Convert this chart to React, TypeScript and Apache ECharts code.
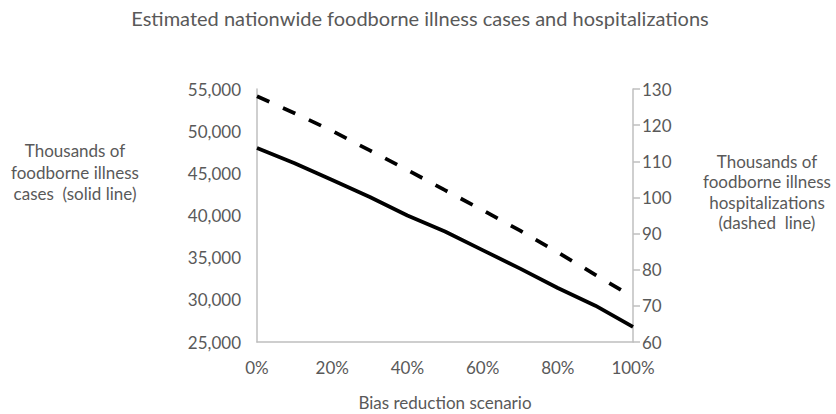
import React, { useEffect, useRef } from "react";
import * as echarts from "echarts";

const categories = ["0%", "10%", "20%", "30%", "40%", "50%", "60%", "70%", "80%", "90%", "100%"];
const illnessCases = [48000, 46200, 44200, 42200, 40000, 38100, 35900, 33700, 31400, 29300, 26800];
const hospitalizations = [128, 123.3, 118.4, 113, 107.6, 102, 96.5, 90.8, 84.8, 78.6, 72.4];

const FONT = "Lato";
const GREY = "#595959";
const AXIS = "#bfbfbf";

export default function App() {
  const ref = useRef<HTMLDivElement>(null);
  useEffect(() => {
    if (!ref.current) return;
    const chart = echarts.init(ref.current, undefined, { renderer: "svg" });
    chart.setOption({
      animation: false,
      backgroundColor: "#ffffff",
      textStyle: { fontFamily: FONT },
      grid: { left: 257, right: 203, top: 89, bottom: 72, containLabel: false },
      xAxis: {
        type: "category",
        data: categories,
        boundaryGap: false,
        axisLine: { show: true, lineStyle: { color: AXIS, width: 1.5 } },
        axisTick: { show: false },
        axisLabel: { interval: 1, color: GREY, fontSize: 17, fontFamily: FONT, margin: 17 },
        splitLine: { show: false },
      },
      yAxis: [
        {
          type: "value",
          min: 25000,
          max: 55000,
          interval: 5000,
          position: "left",
          axisLine: { show: true, lineStyle: { color: AXIS, width: 1.5 } },
          axisTick: { show: false },
          splitLine: { show: false },
          axisLabel: {
            color: GREY,
            fontSize: 17,
            fontFamily: FONT,
            margin: 16,
            formatter: (v: number) => v.toLocaleString("en-US"),
          },
        },
        {
          type: "value",
          min: 60,
          max: 130,
          interval: 10,
          position: "right",
          axisLine: { show: true, lineStyle: { color: AXIS, width: 1.5 } },
          axisTick: { show: true, inside: false, length: 7, lineStyle: { color: AXIS, width: 1.5 } },
          splitLine: { show: false },
          axisLabel: { color: GREY, fontSize: 17, fontFamily: FONT, margin: 9 },
        },
      ],
      series: [
        {
          type: "line",
          yAxisIndex: 0,
          data: illnessCases,
          showSymbol: false,
          symbol: "none",
          lineStyle: { color: "#000000", width: 3.75 },
        },
        {
          type: "line",
          yAxisIndex: 1,
          data: hospitalizations,
          showSymbol: false,
          symbol: "none",
          lineStyle: { color: "#000000", width: 3.75, type: [13.5, 15] },
        },
      ],
      graphic: [
        {
          type: "text",
          x: 420,
          y: 18,
          style: {
            text: "Estimated nationwide foodborne illness cases and hospitalizations",
            textAlign: "center",
            textVerticalAlign: "middle",
            fill: GREY,
            font: `20px ${FONT}`,
          },
        },
        {
          type: "text",
          x: 75,
          y: 172,
          style: {
            text: "Thousands of\nfoodborne illness\ncases  (solid line)",
            textAlign: "center",
            textVerticalAlign: "middle",
            fill: GREY,
            font: `17px ${FONT}`,
            lineHeight: 21.5,
          },
        },
        {
          type: "text",
          x: 767,
          y: 192,
          style: {
            text: "Thousands of\nfoodborne illness\nhospitalizations\n(dashed  line)",
            textAlign: "center",
            textVerticalAlign: "middle",
            fill: GREY,
            font: `17px ${FONT}`,
            lineHeight: 20.5,
          },
        },
        {
          type: "text",
          x: 445,
          y: 402,
          style: {
            text: "Bias reduction scenario",
            textAlign: "center",
            textVerticalAlign: "middle",
            fill: GREY,
            font: `17px ${FONT}`,
          },
        },
      ],
    });
    return () => chart.dispose();
  }, []);
  return <div ref={ref} style={{ width: 836, height: 414, position: "absolute", left: 0, top: 0 }} />;
}
